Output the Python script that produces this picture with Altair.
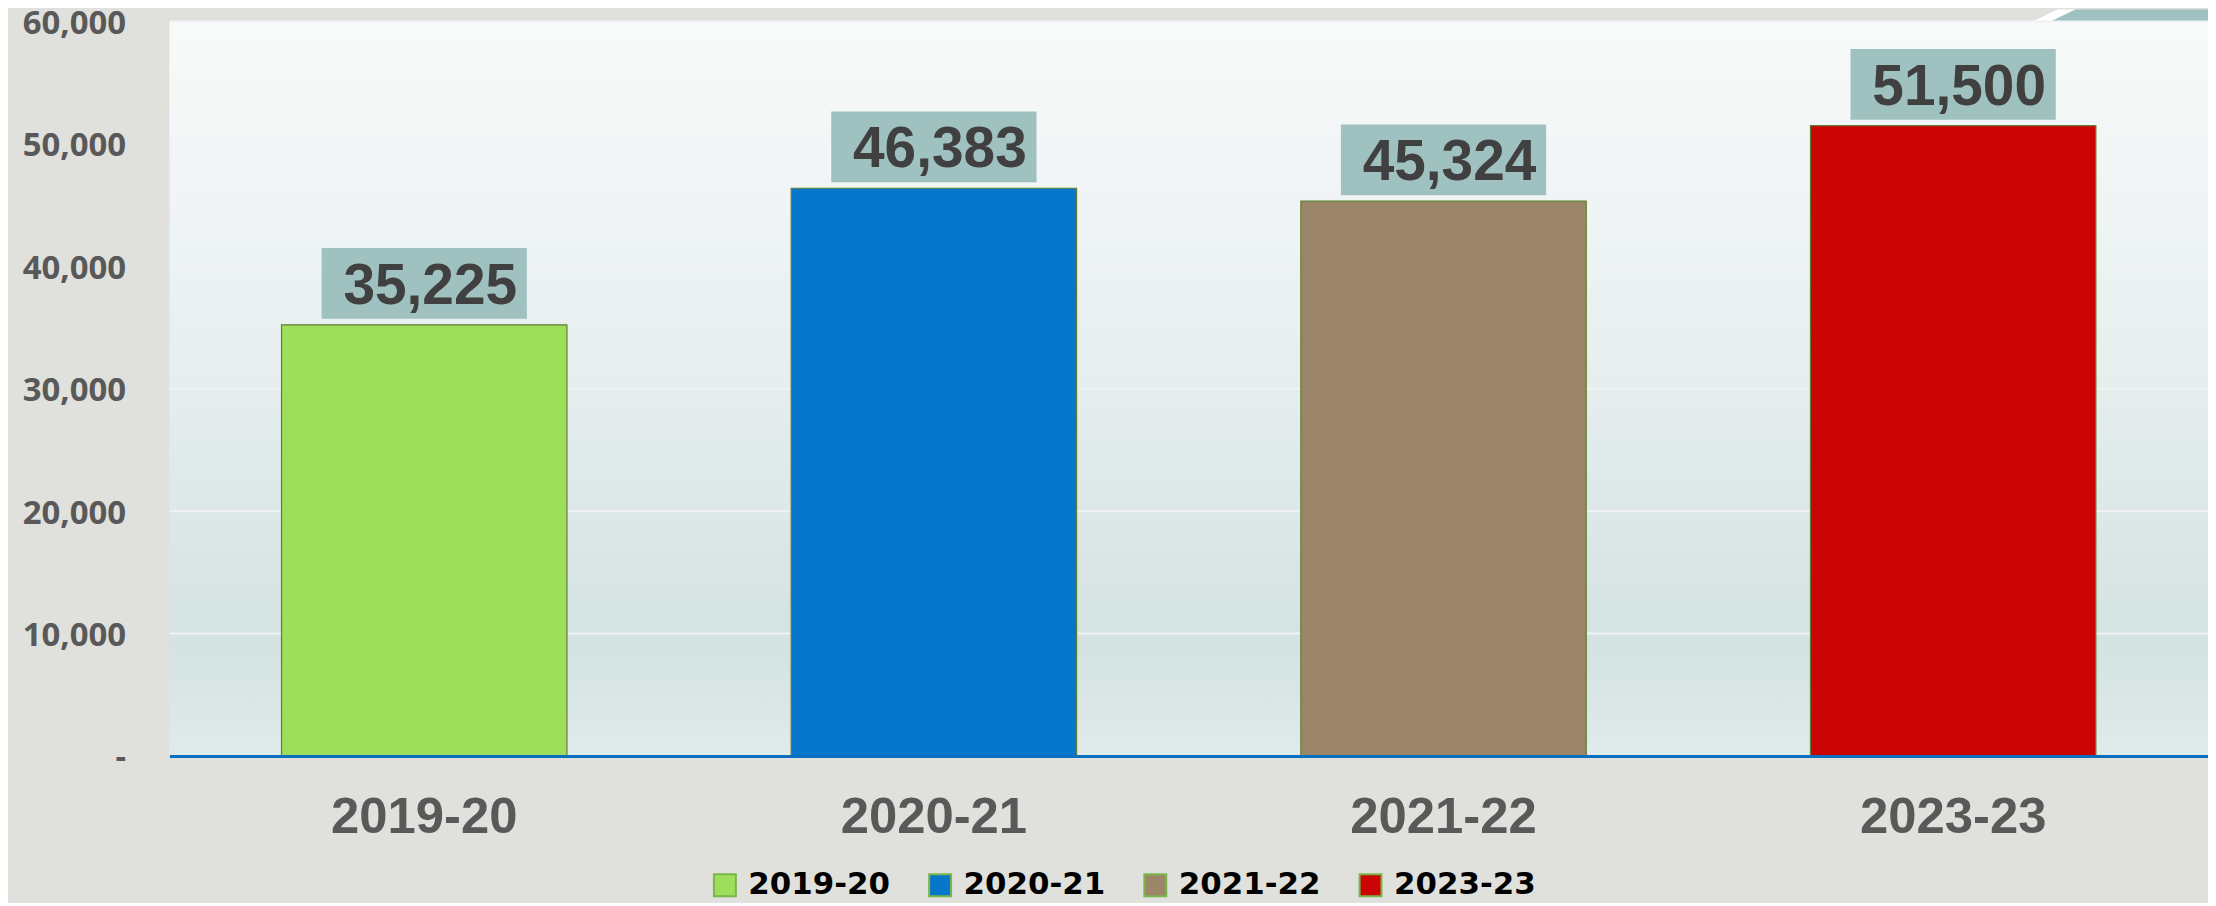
import altair as alt
import pandas as pd

years = ["2019-20", "2020-21", "2021-22", "2023-23"]
values = [35225, 46383, 45324, 51500]
bar_colors = ["#9ddf5b", "#0777cc", "#9c866a", "#cb0505"]
y_ticks = [0, 10000, 20000, 30000, 40000, 50000, 60000]

W, H = 2046, 737

df = pd.DataFrame({"year": years, "value": values})
grid_df = pd.DataFrame({"value": [t for t in y_ticks if t > 0]})
one = pd.DataFrame({"k": [0]})

yscale = alt.Scale(domain=[0, 60000], nice=False, zero=True)
y_axis = alt.Axis(
    values=y_ticks,
    labelExpr="datum.value == 0 ? '-\u00a0\u00a0' : format(datum.value, ',')",
    grid=False, ticks=False, tickSize=0, domain=False,
    labelPadding=44, labelFont="Open Sans", labelFontWeight="bold",
    labelFontSize=33, labelColor="#595959", title=None, labelOffset=2,
    labelFlush=False,
)
Y = alt.Y("value:Q", scale=yscale, axis=y_axis)

x_axis = alt.Axis(
    title=None, labelAngle=0, ticks=False, tickSize=0,
    labelFont="Liberation Sans", labelFontWeight="bold", labelFontSize=51,
    labelColor="#595959", labelPadding=37, labelBaseline="top", labelLimit=500,
    domain=True, domainColor="#0b6fbf", domainWidth=3, zindex=1,
)
X = alt.X("year:N", sort=years,
          scale=alt.Scale(paddingInner=0.44, paddingOuter=0.22),
          axis=x_axis)

bg = alt.Chart(one).mark_rect(
    color=alt.Gradient(
        gradient="linear", x1=0, y1=0, x2=0, y2=1,
        stops=[
            alt.GradientStop(color="#f9fafa", offset=0),
            alt.GradientStop(color="#e8efef", offset=0.45),
            alt.GradientStop(color="#d4e2e2", offset=0.85),
            alt.GradientStop(color="#e0ebeb", offset=1),
        ],
    )
).encode(x=alt.value(0), x2=alt.value(W), y=alt.value(0), y2=alt.value(H))

deco_teal = alt.Chart(one).mark_point(
    shape="M1888,0 L1913,-12 L2046,-12 L2046,0 Z",
    size=4, filled=True, opacity=1, color="#9fc1c0", strokeWidth=0,
).encode(x=alt.value(0), y=alt.value(0))
deco_white = alt.Chart(one).mark_point(
    shape="M1870,0 L1888,0 L1913,-12 L1895,-12 Z",
    size=4, filled=True, opacity=1, color="#ffffff", strokeWidth=0,
).encode(x=alt.value(0), y=alt.value(0))

grid = alt.Chart(grid_df).mark_rule(color="#f0f3f3", strokeWidth=2).encode(
    y=Y, x=alt.value(0), x2=alt.value(W)
)

bars = alt.Chart(df).mark_bar(stroke="#5f7f2f", strokeWidth=1.2).encode(
    x=X, y=Y,
    color=alt.Color(
        "year:N", sort=years,
        scale=alt.Scale(domain=years, range=bar_colors),
        legend=alt.Legend(
            title=None, orient="none", legendX=542, legendY=851,
            direction="horizontal", columns=4, columnPadding=34,
            symbolType="square", symbolSize=484, symbolStrokeColor="#7ab648",
            symbolStrokeWidth=2, symbolOpacity=1,
            labelFont="DejaVu Sans", labelFontWeight="bold", labelFontSize=31,
            labelColor="#000000", labelOffset=8, padding=0, labelLimit=400,
        ),
    ),
)

boxes = alt.Chart(df).mark_bar(
    width=206, color="#9fc1c0", yOffset=-77, y2Offset=-6
).encode(x=X, y=Y, y2="value:Q")

labels = alt.Chart(df).mark_text(
    dx=6, dy=-21, baseline="alphabetic", align="center",
    font="Liberation Sans", fontWeight="bold", fontSize=57, color="#404040",
).encode(x=X, y=Y, text=alt.Text("value:Q", format=","))

chart = alt.layer(bg, deco_white, deco_teal, grid, bars, boxes, labels).properties(
    width=W, height=H,
    padding={"left": 162, "top": 12, "right": 0, "bottom": 146},
    autosize=alt.AutoSizeParams(type="none"),
).configure(background="#e0e0dc").configure_view(stroke=None)

chart.save("out.html", embed_options={"renderer": "svg", "actions": False})
